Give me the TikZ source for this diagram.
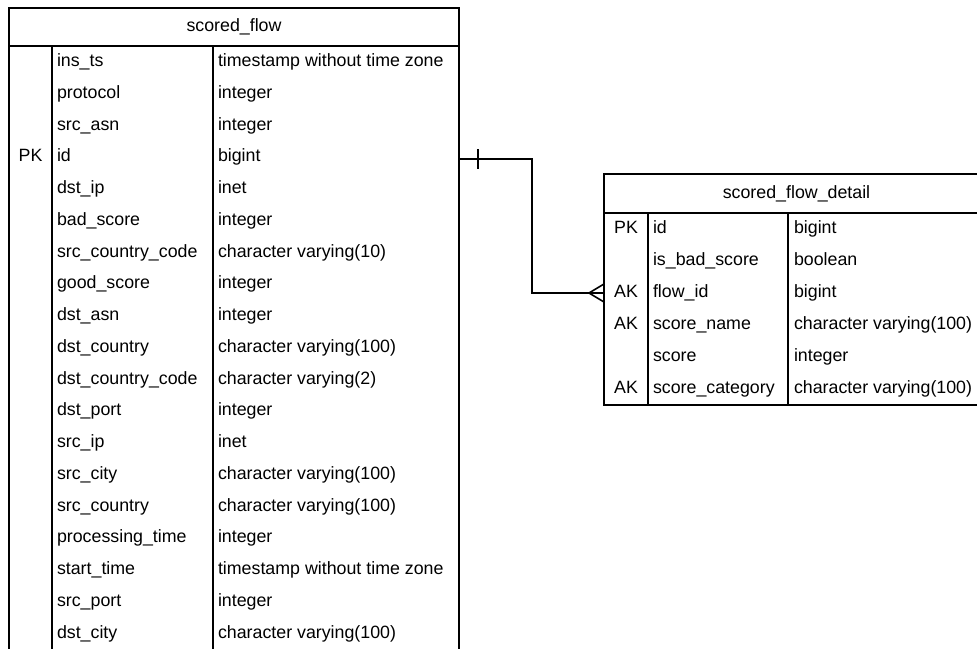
\documentclass[tikz,border=0pt]{standalone}
\usepackage{fontspec}
\setmainfont{Liberation Sans}
\begin{document}
\begin{tikzpicture}[x=1pt,y=-1pt,
  every node/.style={font=\fontsize{17.8}{21}\selectfont, text=black, inner sep=0pt, outer sep=0pt},
  frame/.style={draw=black, line width=1.6pt},
  header/.style={frame, anchor=north west, align=center},
  cellrow/.style={anchor=north west},
  keytext/.style={anchor=base},
  celltext/.style={anchor=base west},
  conn/.style={draw=black, line width=1.6pt}]
\useasboundingbox (0,0) rectangle (977,648);
\clip (0,0) rectangle (977,648);

% one row of scored_flow: index, key, column name, type
\newcommand\sfrow[4]{%
  \node[cellrow, minimum width=450pt, minimum height=31.75pt] (sf-#1) at (9,{46+#1*31.75}) {};
  \node[keytext] at ([xshift=21.5pt,yshift=-4.8pt]sf-#1.west) {#2};
  \node[celltext] at ([xshift=48pt,yshift=-4.8pt]sf-#1.west) {#3};
  \node[celltext] at ([xshift=209pt,yshift=-4.8pt]sf-#1.west) {#4};
}
% one row of scored_flow_detail
\newcommand\sfdrow[4]{%
  \node[cellrow, minimum width=385pt, minimum height=32pt] (sfd-#1) at (604,{213+#1*32}) {};
  \node[keytext] at ([xshift=22pt,yshift=-4.8pt]sfd-#1.west) {#2};
  \node[celltext] at ([xshift=49pt,yshift=-4.8pt]sfd-#1.west) {#3};
  \node[celltext] at ([xshift=190pt,yshift=-4.8pt]sfd-#1.west) {#4};
}

% ---- table scored_flow ----
\node[header, minimum width=450pt, minimum height=38pt] (sf) at (9,8) {scored\_flow};
\node[frame, anchor=north west, minimum width=450pt, minimum height=610pt] (sfbody) at (9,46) {};
\draw[frame] ([xshift=43pt]sfbody.north west) -- ([xshift=43pt]sfbody.south west);
\draw[frame] ([xshift=204pt]sfbody.north west) -- ([xshift=204pt]sfbody.south west);

\sfrow{0}{}{ins\_ts}{timestamp without time zone}
\sfrow{1}{}{protocol}{integer}
\sfrow{2}{}{src\_asn}{integer}
\sfrow{3}{PK}{id}{bigint}
\sfrow{4}{}{dst\_ip}{inet}
\sfrow{5}{}{bad\_score}{integer}
\sfrow{6}{}{src\_country\_code}{character varying(10)}
\sfrow{7}{}{good\_score}{integer}
\sfrow{8}{}{dst\_asn}{integer}
\sfrow{9}{}{dst\_country}{character varying(100)}
\sfrow{10}{}{dst\_country\_code}{character varying(2)}
\sfrow{11}{}{dst\_port}{integer}
\sfrow{12}{}{src\_ip}{inet}
\sfrow{13}{}{src\_city}{character varying(100)}
\sfrow{14}{}{src\_country}{character varying(100)}
\sfrow{15}{}{processing\_time}{integer}
\sfrow{16}{}{start\_time}{timestamp without time zone}
\sfrow{17}{}{src\_port}{integer}
\sfrow{18}{}{dst\_city}{character varying(100)}

% ---- table scored_flow_detail ----
\node[header, minimum width=385pt, minimum height=39pt] (sfd) at (604,174) {scored\_flow\_detail};
\node[frame, anchor=north west, minimum width=385pt, minimum height=192pt] (sfdbody) at (604,213) {};
\draw[frame] ([xshift=44pt]sfdbody.north west) -- ([xshift=44pt]sfdbody.south west);
\draw[frame] ([xshift=184pt]sfdbody.north west) -- ([xshift=184pt]sfdbody.south west);

\sfdrow{0}{PK}{id}{bigint}
\sfdrow{1}{}{is\_bad\_score}{boolean}
\sfdrow{2}{AK}{flow\_id}{bigint}
\sfdrow{3}{AK}{score\_name}{character varying(100)}
\sfdrow{4}{}{score}{integer}
\sfdrow{5}{AK}{score\_category}{character varying(100)}

% ---- relationship: one scored_flow to many scored_flow_detail ----
\coordinate (relstart) at ([yshift=-2pt]sf-3.east);
\draw[conn] (relstart) -- ++(72.7,0) |- (sfd-2.west);
\draw[conn] ([xshift=19pt,yshift=10pt]relstart) -- ([xshift=19pt,yshift=-10pt]relstart);
\draw[conn] ([yshift=9pt]sfd-2.west) -- ([xshift=-15pt]sfd-2.west) -- ([yshift=-9pt]sfd-2.west);
\end{tikzpicture}
\end{document}
